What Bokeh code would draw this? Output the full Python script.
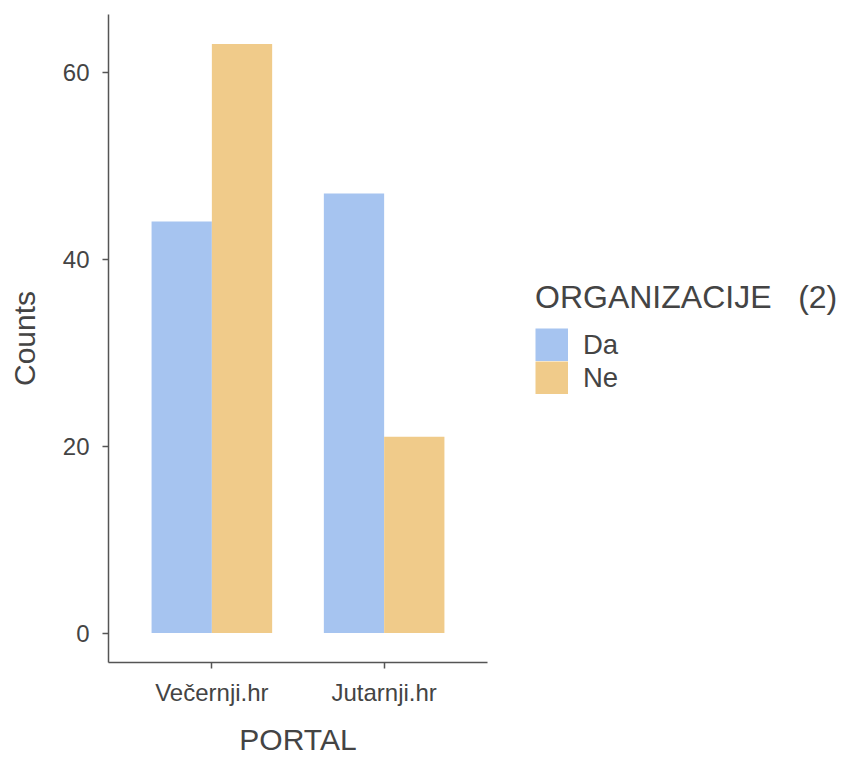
from bokeh.plotting import figure
from bokeh.models import ColumnDataSource, Range1d, FixedTicker, Legend, LegendItem
from bokeh.transform import dodge
from bokeh.embed import file_html
from bokeh.resources import INLINE

portals = ["Večernji.hr", "Jutarnji.hr"]
groups = ["Da", "Ne"]
da_counts = [44, 47]
ne_counts = [63, 21]
y_ticks = [0, 20, 40, 60]
colors = {"Da": "#A6C4F0", "Ne": "#F0CB8A"}

xpos = list(range(1, len(portals) + 1))
src = ColumnDataSource(dict(x=xpos, Da=da_counts, Ne=ne_counts))

FONT = "Liberation Sans"
SW = 33  # legend swatch size

p = figure(frame_width=379, frame_height=648,
           x_range=Range1d(0.4, 2.6), y_range=Range1d(-3.15, 66.15),
           output_backend="svg", toolbar_location=None,
           min_border_left=108, min_border_top=14, min_border_bottom=90,
           min_border_right=5)

p.vbar(x=dodge("x", -0.175, range=p.x_range), top="Da", bottom=0, width=0.35,
       source=src, fill_color=colors["Da"], line_color=None)
p.vbar(x=dodge("x", 0.175, range=p.x_range), top="Ne", bottom=0, width=0.35,
       source=src, fill_color=colors["Ne"], line_color=None)

# hidden legend keys: thick lines give full, contiguous swatches
key_da = p.line(x="x", y="Da", source=src, line_color=colors["Da"],
                line_width=SW, line_cap="butt", visible=False)
key_ne = p.line(x="x", y="Ne", source=src, line_color=colors["Ne"],
                line_width=SW, line_cap="butt", visible=False)

p.xgrid.visible = False
p.ygrid.visible = False
p.outline_line_color = None

p.xaxis.ticker = FixedTicker(ticks=xpos)
p.xaxis.major_label_overrides = {i: lab for i, lab in zip(xpos, portals)}
p.yaxis.ticker = FixedTicker(ticks=y_ticks)

for ax in (p.xaxis[0], p.yaxis[0]):
    ax.axis_line_color = "#555555"
    ax.axis_line_width = 1.5
    ax.major_tick_line_color = "#555555"
    ax.major_tick_line_width = 1.5
    ax.major_tick_out = 6
    ax.major_tick_in = 0
    ax.minor_tick_line_color = None
    ax.major_label_text_font = FONT
    ax.major_label_text_font_size = "24px"
    ax.major_label_text_color = "#444444"
    ax.axis_label_text_font = FONT
    ax.axis_label_text_font_size = "30px"
    ax.axis_label_text_font_style = "normal"
    ax.axis_label_text_color = "#444444"

p.xaxis.axis_label = "PORTAL"
p.yaxis.axis_label = "Counts"
p.xaxis.major_label_standoff = 10
p.yaxis.major_label_standoff = 13
p.xaxis.axis_label_standoff = 14
p.yaxis.axis_label_standoff = 19

legend = Legend(items=[LegendItem(label=groups[0], renderers=[key_da]),
                       LegendItem(label=groups[1], renderers=[key_ne])],
                title="ORGANIZACIJE   (2)",
                location=(48, 268),
                orientation="vertical",
                click_policy="none")
legend.title_text_font = FONT
legend.title_text_font_size = "32px"
legend.title_text_font_style = "normal"
legend.title_text_color = "#444444"
legend.title_standoff = 12
legend.label_text_font = FONT
legend.label_text_font_size = "27.5px"
legend.label_text_color = "#444444"
legend.glyph_width = SW
legend.glyph_height = SW
legend.label_height = SW
legend.spacing = 0
legend.padding = 0
legend.margin = 0
legend.label_standoff = 15
legend.border_line_color = None
legend.background_fill_alpha = 0
legend.inactive_fill_alpha = 0
p.add_layout(legend, "right")

open("out.html", "w").write(file_html(p, INLINE))
